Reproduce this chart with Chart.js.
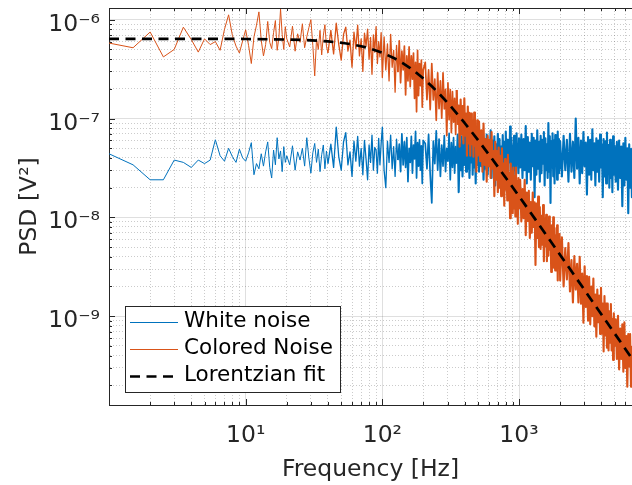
<!DOCTYPE html>
<html>
<head>
<meta charset="utf-8">
<script src="https://cdn.jsdelivr.net/npm/chart.js@4.4.1/dist/chart.umd.min.js"></script>
<style>
html,body{margin:0;padding:0;background:#fff;overflow:hidden}
canvas{display:block}
</style>
</head>
<body>
<canvas id="c" width="632" height="485"></canvas>
<script>
// ---------------- data ----------------
const seriesNames = ['White noise', 'Colored Noise', 'Lorentzian fit'];

const freqHz = [
1,1.5,2,2.5,3,3.5,4,4.5,5,5.5,6,6.5,7,7.5,8,8.5,9,9.5,10,10.5,11,11.5,12,12.5,13,13.5,14,14.5,15,15.5,16,16.5,17,17.5,18,18.5,19,19.5,20,
21,22,23,24,25,26,27,28,29,30,31,32,33,34,35,36,37,38,39,40,
42,44,46,48,50,52,54,56,58,60,62,64,66,68,70,72,74,76,78,80,82,84,86,88,90,92,94,96,98,100,
103,106,109,112,115,118,121,124,127,130,133,136,139,142,145,148,151,154,157,160,163,166,169,172,175,178,181,184,187,190,193,196,199,
206,212,218,224,230,236,242,248,254,260,266,272,278,284,290,296,302,308,314,320,326,332,338,344,350,356,362,368,374,380,386,392,398,404,410,416,422,428,434,440,446,452,458,464,470,476,482,488,494,500,
510,520,530,540,550,560,570,580,590,600,610,620,630,640,650,660,670,680,690,700,710,720,730,740,750,760,770,780,790,800,810,820,830,840,850,860,870,880,890,900,910,920,930,940,950,960,970,980,990,1000,
1020,1040,1060,1080,1100,1120,1140,1160,1180,1200,1220,1240,1260,1280,1300,1320,1340,1360,1380,1400,1420,1440,1460,1480,1500,1520,1540,1560,1580,1600,1620,1640,1660,1680,1700,1720,1740,1760,1780,1800,1820,1840,1860,1880,1900,1920,1940,1960,1980,2000,
2060,2120,2180,2240,2300,2360,2420,2480,2540,2600,2660,2720,2780,2840,2900,2960,3020,3080,3140,3200,3260,3320,3380,3440,3500,3560,3620,3680,3740,3800,3860,3920,3980,4040,4100,4160,4220,4280,4340,4400,4460,4520,4580,4640,4700,4760,4820,4880,4940,5000,
5100,5200,5300,5400,5500,5600,5700,5800,5900,6000,6100,6200,6300,6400,6500,6600,6700,6800
];

const whiteNoise = [
4.4e-8,3.4e-8,2.4e-8,2.4e-8,3.8e-8,3.6e-8,3.2e-8,3.8e-8,3.5e-8,3.8e-8,6.1e-8,4.2e-8,3.7e-8,5.0e-8,4.1e-8,3.6e-8,4.9e-8,4.0e-8,3.7e-8,4.5e-8,5.7e-8,2.7e-8,3.5e-8,3.1e-8,4.4e-8,3.3e-8,4.6e-8,5.8e-8,3.2e-8,2.5e-8,4.8e-8,3.4e-8,6.4e-8,3.9e-8,4.7e-8,2.9e-8,5.2e-8,3.6e-8,4.2e-8,
3.4e-8,5.3e-8,3.0e-8,4.6e-8,3.8e-8,5.0e-8,3.3e-8,6.4e-8,4.0e-8,2.8e-8,4.5e-8,5.6e-8,3.6e-8,4.9e-8,2.9e-8,4.3e-8,5.4e-8,3.1e-8,4.7e-8,3.5e-8,
5.5e-8,3.2e-8,8.2e-8,4.1e-8,3.0e-8,5.8e-8,7.2e-8,3.4e-8,4.6e-8,2.6e-8,5.9e-8,3.7e-8,6.6e-8,3.3e-8,5.0e-8,2.7e-8,6.0e-8,3.9e-8,2.4e-8,5.4e-8,3.6e-8,6.8e-8,3.0e-8,5.1e-8,4.8e-8,2.8e-8,6.3e-8,3.4e-8,5.6e-8,8.2e-8,
3.0e-8,2.0e-8,5.9e-8,3.6e-8,6.8e-8,3.1e-8,5.2e-8,2.6e-8,6.2e-8,3.8e-8,5.5e-8,2.9e-8,7.0e-8,3.4e-8,5.8e-8,3.2e-8,6.4e-8,2.3e-8,5.0e-8,3.6e-8,6.6e-8,2.8e-8,5.4e-8,3.9e-8,7.4e-8,2.5e-8,5.7e-8,3.3e-8,6.1e-8,3.0e-8,5.3e-8,2.2e-8,6.0e-8,
5.6e-8,3.1e-8,6.9e-8,2.7e-8,1.4e-8,5.9e-8,3.5e-8,7.5e-8,3.0e-8,6.2e-8,2.6e-8,5.4e-8,3.3e-8,6.7e-8,2.9e-8,5.0e-8,3.7e-8,7.1e-8,2.4e-8,5.7e-8,3.2e-8,6.4e-8,2.8e-8,5.2e-8,3.5e-8,6.9e-8,1.8e-8,5.5e-8,3.0e-8,6.6e-8,2.6e-8,5.9e-8,3.4e-8,7.3e-8,2.9e-8,5.3e-8,3.1e-8,6.1e-8,2.5e-8,5.6e-8,3.6e-8,8.0e-8,2.7e-8,6.3e-8,3.2e-8,5.1e-8,2.2e-8,6.8e-8,3.4e-8,5.8e-8,
2.9e-8,6.5e-8,3.3e-8,7.2e-8,2.4e-8,5.7e-8,3.1e-8,6.9e-8,2.7e-8,5.4e-8,3.8e-8,7.6e-8,2.5e-8,6.0e-8,3.2e-8,6.6e-8,2.1e-8,5.5e-8,3.5e-8,7.0e-8,2.8e-8,6.2e-8,3.0e-8,5.2e-8,2.6e-8,6.8e-8,3.4e-8,5.8e-8,2.3e-8,7.4e-8,3.1e-8,6.1e-8,2.7e-8,5.6e-8,3.6e-8,8.3e-8,2.9e-8,6.4e-8,3.3e-8,5.3e-8,1.9e-8,6.7e-8,3.0e-8,5.9e-8,2.6e-8,7.1e-8,3.5e-8,5.5e-8,2.8e-8,6.3e-8,
3.2e-8,6.9e-8,2.5e-8,6.2e-8,3.0e-8,8.4e-8,2.2e-8,6.5e-8,2.9e-8,5.7e-8,2.4e-8,7.0e-8,3.3e-8,6.4e-8,1.6e-8,6.0e-8,2.7e-8,7.6e-8,3.1e-8,5.8e-8,2.3e-8,6.7e-8,2.8e-8,6.1e-8,3.5e-8,7.3e-8,2.1e-8,6.3e-8,3.0e-8,5.5e-8,2.5e-8,9.0e-8,2.9e-8,6.6e-8,1.4e-8,5.9e-8,3.2e-8,7.1e-8,2.6e-8,6.0e-8,2.2e-8,6.8e-8,3.4e-8,5.6e-8,2.4e-8,7.4e-8,2.8e-8,6.2e-8,3.1e-8,5.9e-8,
2.6e-8,6.7e-8,3.0e-8,6.1e-8,2.3e-8,7.0e-8,2.9e-8,5.8e-8,2.5e-8,1.0e-7,3.1e-8,6.4e-8,2.2e-8,6.0e-8,2.8e-8,7.3e-8,3.3e-8,5.7e-8,1.7e-8,6.5e-8,2.7e-8,6.1e-8,2.4e-8,7.8e-8,3.0e-8,5.6e-8,2.1e-8,6.3e-8,2.9e-8,6.0e-8,2.3e-8,6.9e-8,3.2e-8,5.5e-8,1.6e-8,6.2e-8,2.6e-8,5.9e-8,2.2e-8,7.2e-8,2.8e-8,5.4e-8,2.0e-8,6.1e-8,2.5e-8,5.7e-8,1.8e-8,6.6e-8,2.7e-8,5.3e-8,
2.3e-8,5.8e-8,1.9e-8,6.0e-8,2.5e-8,5.2e-8,1.3e-8,5.6e-8,2.1e-8,6.4e-8,2.4e-8,5.0e-8,1.1e-8,5.5e-8,2.0e-8,4.9e-8,1.6e-8,5.1e-8
];

const coloredNoise = [
5.8e-7,5.2e-7,7.5e-7,4.2e-7,5.0e-7,8.4e-7,6.3e-7,4.7e-7,6.4e-7,5.6e-7,6.0e-7,4.9e-7,8.0e-7,1.12e-6,6.9e-7,5.4e-7,4.6e-7,6.1e-7,7.9e-7,5.5e-7,3.6e-7,6.7e-7,8.8e-7,1.2e-6,6.2e-7,4.3e-7,5.6e-7,9.6e-7,5.9e-7,5.1e-7,7.4e-7,9.8e-7,4.9e-7,6.6e-7,1.28e-6,7.1e-7,5.0e-7,8.5e-7,6.4e-7,
5.3e-7,8.6e-7,4.8e-7,7.2e-7,5.9e-7,9.1e-7,5.2e-7,6.7e-7,8.3e-7,1.0e-6,5.5e-7,2.7e-7,6.4e-7,5.0e-7,7.8e-7,4.4e-7,6.9e-7,8.9e-7,5.4e-7,4.6e-7,
7.8e-7,4.5e-7,9.2e-7,5.6e-7,3.9e-7,7.1e-7,8.4e-7,4.8e-7,6.2e-7,3.3e-7,7.5e-7,5.1e-7,8.8e-7,4.3e-7,6.4e-7,3.0e-7,7.3e-7,5.4e-7,8.0e-7,4.0e-7,6.6e-7,2.8e-7,7.0e-7,4.7e-7,8.5e-7,3.6e-7,6.0e-7,4.2e-7,7.4e-7,2.6e-7,
6.7e-7,3.1e-7,5.7e-7,2.4e-7,7.1e-7,3.3e-7,4.9e-7,1.85e-7,5.5e-7,2.95e-7,6.1e-7,2.3e-7,4.8e-7,3.1e-7,5.4e-7,1.73e-7,4.3e-7,2.4e-7,5.3e-7,2.1e-7,4.3e-7,2.5e-7,4.6e-7,1.6e-7,3.7e-7,1.17e-7,4.9e-7,1.7e-7,3.6e-7,2.15e-7,3.9e-7,1.3e-7,3.1e-7,
3.7e-7,1.55e-7,3.1e-7,1.23e-7,3.6e-7,1.54e-7,2.5e-7,9.6e-8,2.9e-7,1.26e-7,2.4e-7,1.01e-7,2.9e-7,1.25e-7,1.97e-7,6.7e-8,2.3e-7,9.7e-8,1.96e-7,7.2e-8,1.87e-7,9.2e-8,1.6e-7,6.9e-8,1.94e-7,8.8e-8,1.35e-7,5.2e-8,1.56e-7,6.9e-8,1.34e-7,5.6e-8,1.6e-7,6.7e-8,1.12e-7,4.2e-8,1.32e-7,5.6e-8,1.14e-7,4.2e-8,1.12e-7,5.5e-8,9.6e-8,4.1e-8,1.15e-7,5.3e-8,8.1e-8,2.9e-8,9.6e-8,4.2e-8,
9.3e-8,3.7e-8,7.6e-8,2.9e-8,8.9e-8,3.4e-8,6.2e-8,2.3e-8,6.7e-8,3.3e-8,6.1e-8,2.5e-8,7.3e-8,3.1e-8,4.7e-8,1.64e-8,5.8e-8,2.4e-8,4.7e-8,1.8e-8,5.1e-8,2.0e-8,4.2e-8,1.64e-8,5.0e-8,2.0e-8,3.5e-8,1.31e-8,3.9e-8,1.9e-8,3.6e-8,1.48e-8,4.3e-8,1.8e-8,2.8e-8,9.8e-9,3.5e-8,1.48e-8,2.9e-8,1.1e-8,3.2e-8,1.23e-8,2.6e-8,1.02e-8,3.2e-8,1.23e-8,2.3e-8,8.6e-9,2.5e-8,1.23e-8,
2.4e-8,9.1e-9,1.94e-8,9.8e-9,2.4e-8,6.6e-9,1.78e-8,9.2e-9,1.86e-8,6.2e-9,1.43e-8,7.0e-9,1.78e-8,8.0e-9,1.42e-8,3.3e-9,1.38e-8,6.2e-9,1.62e-8,5.0e-9,1.27e-8,4.8e-9,1.04e-8,5.3e-9,1.33e-8,3.6e-9,9.8e-9,5.1e-9,1.06e-8,3.6e-9,8.2e-9,4.1e-9,1.02e-8,4.7e-9,8.3e-9,2.8e-9,8.3e-9,3.7e-9,1.0e-8,3.1e-9,7.8e-9,2.9e-9,6.5e-9,3.3e-9,8.3e-9,2.3e-9,6.2e-9,3.2e-9,6.8e-9,2.3e-9,
6.3e-9,2.0e-9,4.9e-9,2.35e-9,5.5e-9,1.78e-9,3.7e-9,1.38e-9,4.05e-9,1.86e-9,3.4e-9,1.38e-9,4.0e-9,1.34e-9,2.7e-9,8.6e-10,3.2e-9,1.24e-9,2.55e-9,9.0e-10,2.5e-9,8.3e-10,2.0e-9,1.0e-9,2.4e-9,7.9e-10,1.66e-9,6.2e-10,1.86e-9,8.7e-10,1.62e-9,6.6e-10,1.94e-9,6.7e-10,1.34e-9,4.4e-10,1.6e-9,6.4e-10,1.34e-9,4.8e-10,1.34e-9,4.5e-10,1.12e-9,5.4e-10,1.33e-9,4.5e-10,9.4e-10,3.6e-10,1.07e-9,5.0e-10,
9.3e-10,3.7e-10,1.01e-9,2.9e-10,7.5e-10,3.7e-10,8.3e-10,2.75e-10,8.7e-10,3.0e-10,6.3e-10,1.94e-10,6.6e-10,3.1e-10,6.6e-10,1.94e-10,4.9e-10,2.2e-10
];

const fitFreqHz = [1,3,10,20,30,40,50,60,70,80,100,120,140,160,180,200,230,260,300,350,400,500,600,700,850,1000,1500,2000,3000,5000,6800];
const fitPsd = [6.4e-7,6.4e-7,6.38e-7,6.3e-7,6.19e-7,6.03e-7,5.84e-7,5.63e-7,5.39e-7,5.15e-7,4.63e-7,4.13e-7,3.66e-7,3.24e-7,2.86e-7,2.54e-7,2.12e-7,1.79e-7,1.445e-7,1.13e-7,9.02e-8,6.08e-8,4.35e-8,3.25e-8,2.24e-8,1.64e-8,7.38e-9,4.17e-9,1.86e-9,6.71e-10,3.63e-10];

const xTickValues = [10, 100, 1000];
const xTickLabels = ['10¹', '10²', '10³'];
const yTickValues = [1e-9, 1e-8, 1e-7, 1e-6];
const yTickLabels = ['10⁻⁹', '10⁻⁸', '10⁻⁷', '10⁻⁶'];

const X_MIN = 1, X_MAX = 6710;
const Y_MIN = 1.264e-10, Y_MAX = 1.313e-6;

// ---------------- styling ----------------
const AXIS = '#262626';
const BLUE = '#0072BD', ORANGE = '#D95319';
const FONT = "'DejaVu Sans', sans-serif";
Chart.defaults.font.family = FONT;
Chart.defaults.color = AXIS;

function logTicks(min, max) {
  const out = [];
  for (let e = Math.floor(Math.log10(min)); e <= Math.ceil(Math.log10(max)); e++) {
    for (let m = 1; m <= 9; m++) {
      const v = Number((m * Math.pow(10, e)).toPrecision(6));
      if (v >= min * 0.99999 && v <= max * 1.00001) out.push({ value: v, major: m === 1 });
    }
  }
  return out;
}
function tickLabel(v, vals, labels) {
  const i = vals.findIndex(t => Math.abs(Math.log10(t) - Math.log10(v)) < 1e-6);
  return i >= 0 ? labels[i] : '';
}
function noPad(s) { s.paddingLeft = 0; s.paddingRight = 0; s.paddingTop = 0; s.paddingBottom = 0; }
const gridColor = c => (c.tick && c.tick.major) ? 'rgba(38,38,38,0.15)' : 'rgba(38,38,38,0.24)';
const gridDash = c => (c.tick && !c.tick.major) ? [1, 2] : [];
const pts = (xs, ys) => xs.map((x, i) => ({ x: x, y: ys[i] }));
// dense FFT bins: thicker stroke where the bins crowd together
const denseWidth = c => {
  const f = c.p0.parsed.x;
  return f < 40 ? 1 : f < 130 ? 1.3 : f < 350 ? 1.7 : 2.1;
};

const framePlugin = {
  id: 'matlabFrame',
  beforeDatasetsDraw(chart) {
    const { ctx, chartArea: a, scales: { x, y } } = chart;
    ctx.save();
    ctx.strokeStyle = AXIS;
    ctx.lineWidth = 1;
    ctx.beginPath();
    ctx.moveTo(a.left, Math.round(a.top) + 0.5);
    ctx.lineTo(a.right, Math.round(a.top) + 0.5);
    x.ticks.forEach(t => {
      const px = Math.round(x.getPixelForValue(t.value)) + 0.5;
      const len = t.major ? 6 : 3;
      ctx.moveTo(px, a.bottom); ctx.lineTo(px, a.bottom - len);
      ctx.moveTo(px, a.top); ctx.lineTo(px, a.top + len);
    });
    y.ticks.forEach(t => {
      const py = Math.round(y.getPixelForValue(t.value)) + 0.5;
      const len = t.major ? 6 : 3;
      ctx.moveTo(a.left, py); ctx.lineTo(a.left + len, py);
    });
    ctx.stroke();
    ctx.restore();
  },
  afterDraw(chart) {
    const { ctx, chartArea: a } = chart;
    const ds = chart.data.datasets;
    ctx.save();
    ctx.font = "21.5px " + FONT;
    const textW = Math.max(...ds.map(d => ctx.measureText(d.label).width));
    const left = Math.round(a.left + 16), top = Math.round(a.bottom - 99);
    const sampleW = 48, rowH = 27.2;
    const w = Math.round(5 + sampleW + 6 + textW + 7), h = 86;
    ctx.fillStyle = '#fff';
    ctx.fillRect(left, top, w, h);
    ctx.strokeStyle = AXIS;
    ctx.lineWidth = 1;
    ctx.strokeRect(left + 0.5, top + 0.5, w, h);
    ds.forEach((d, i) => {
      const cy = top + 15.5 + i * rowH;
      ctx.beginPath();
      ctx.setLineDash(d.borderDash || []);
      ctx.strokeStyle = d.borderColor;
      ctx.lineWidth = d.legendWidth || d.borderWidth;
      ctx.moveTo(left + 5, Math.round(cy) + 0.5);
      ctx.lineTo(left + 5 + sampleW, Math.round(cy) + 0.5);
      ctx.stroke();
      ctx.setLineDash([]);
      ctx.fillStyle = '#000';
      ctx.textAlign = 'left';
      ctx.textBaseline = 'middle';
      ctx.fillText(d.label, left + 5 + sampleW + 6, cy);
    });
    ctx.restore();
  }
};

new Chart(document.getElementById('c'), {
  type: 'line',
  data: {
    datasets: [
      { label: seriesNames[0], data: pts(freqHz, whiteNoise), borderColor: BLUE, borderWidth: 1, legendWidth: 1, order: 3,
        segment: { borderWidth: denseWidth } },
      { label: seriesNames[1], data: pts(freqHz, coloredNoise), borderColor: ORANGE, borderWidth: 1, legendWidth: 1, order: 2,
        segment: { borderWidth: denseWidth } },
      { label: seriesNames[2], data: pts(fitFreqHz, fitPsd), borderColor: '#000000', borderWidth: 2.7, borderDash: [10, 6.5], order: 1 }
    ]
  },
  options: {
    responsive: false,
    animation: false,
    devicePixelRatio: 1,
    events: [],
    elements: {
      point: { radius: 0, hitRadius: 0, hoverRadius: 0 },
      line: { tension: 0, fill: false, borderJoinStyle: 'round' }
    },
    layout: { padding: { top: 8, left: 0, right: 0, bottom: 0 } },
    plugins: { legend: { display: false }, tooltip: { enabled: false } },
    scales: {
      x: {
        type: 'logarithmic', position: 'bottom', min: X_MIN, max: X_MAX,
        afterBuildTicks: s => { s.ticks = logTicks(s.min, s.max); },
        afterFit: s => { s.height = 80; noPad(s); },
        ticks: { autoSkip: false, maxRotation: 0, minRotation: 0, padding: 17, color: AXIS,
                 font: { size: 23.5 }, callback: v => tickLabel(v, xTickValues, xTickLabels) },
        grid: { drawTicks: false, color: gridColor, lineWidth: 1 },
        border: { display: true, color: AXIS, width: 1, dash: gridDash },
        title: { display: true, text: 'Frequency [Hz]', color: AXIS, font: { size: 23.5 }, padding: { top: 0, bottom: 1 } }
      },
      y: {
        type: 'logarithmic', position: 'left', min: Y_MIN, max: Y_MAX,
        afterBuildTicks: s => { s.ticks = logTicks(s.min, s.max); },
        afterFit: s => { s.width = 109; noPad(s); },
        ticks: { autoSkip: false, padding: 9, labelOffset: 5, color: AXIS,
                 font: { size: 23.5 }, callback: v => tickLabel(v, yTickValues, yTickLabels) },
        grid: { drawTicks: false, color: gridColor, lineWidth: 1 },
        border: { display: true, color: AXIS, width: 1, dash: gridDash },
        title: { display: true, text: 'PSD [V²]', color: AXIS, font: { size: 23.5 }, padding: { top: 16, bottom: 0 } }
      }
    }
  },
  plugins: [framePlugin]
});
</script>
</body>
</html>
